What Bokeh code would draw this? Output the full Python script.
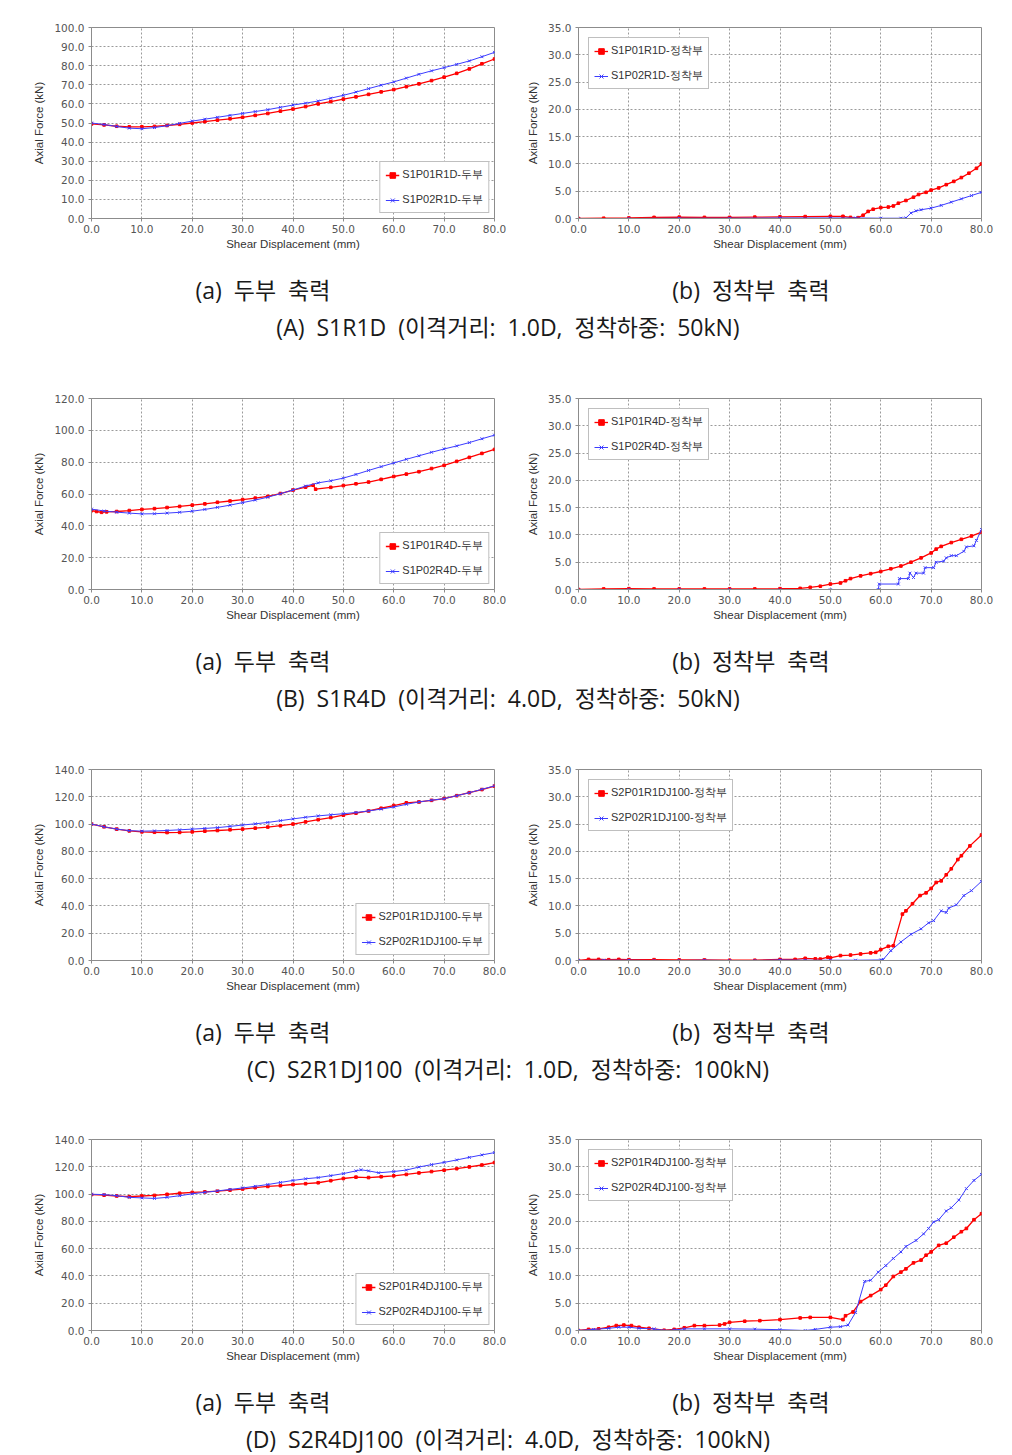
from bokeh.plotting import figure
from bokeh.models import Div, FixedTicker, NumeralTickFormatter, Range1d
from bokeh.layouts import column, row
from bokeh.embed import file_html
from bokeh.resources import INLINE

# ---------------- data ----------------
X25 = [0, 2.5, 5, 7.5, 10, 12.5, 15, 17.5, 20, 22.5, 25, 27.5, 30, 32.5, 35, 37.5, 40,
       42.5, 45, 47.5, 50, 52.5, 55, 57.5, 60, 62.5, 65, 67.5, 70, 72.5, 75, 77.5, 80]
X_TICKS = [0, 10, 20, 30, 40, 50, 60, 70, 80]
Y_TICKS_A_HEAD = [0, 10, 20, 30, 40, 50, 60, 70, 80, 90, 100]
Y_TICKS_B_HEAD = [0, 20, 40, 60, 80, 100, 120]
Y_TICKS_CD_HEAD = [0, 20, 40, 60, 80, 100, 120, 140]
Y_TICKS_ANCHOR = [0, 5, 10, 15, 20, 25, 30, 35]

# (A) S1R1D
a_head_p01_y = [49.5, 49.0, 48.3, 48.0, 48.0, 48.2, 48.7, 49.3, 50.0, 50.7, 51.5, 52.2, 53.0,
                54.0, 55.0, 56.2, 57.3, 58.6, 60.0, 61.2, 62.5, 63.7, 65.0, 66.3, 67.5, 69.0,
                70.5, 72.2, 74.0, 76.0, 78.3, 81.0, 83.5]
a_head_p02_y = [50.0, 49.2, 48.2, 47.3, 47.0, 47.6, 48.6, 49.8, 51.0, 52.0, 53.0, 54.0, 55.0,
                56.0, 57.0, 58.2, 59.4, 60.4, 61.5, 63.0, 64.5, 66.2, 68.0, 69.8, 71.5, 73.5,
                75.5, 77.3, 79.0, 80.7, 82.5, 84.7, 87.0]
a_anc_p01_x = [0, 5, 10, 15, 20, 25, 30, 35, 40, 45, 50, 52.5, 54, 55.5, 56.5, 57.5, 58.5,
               60, 61.5, 62.5, 63.5, 65, 66.5, 67.5, 69, 70, 71.5, 73, 74.5, 76, 77.5, 79, 80]
a_anc_p01_y = [0.0, 0.05, 0.1, 0.2, 0.25, 0.2, 0.2, 0.25, 0.3, 0.35, 0.4, 0.4, 0.2, 0.15, 0.6,
               1.3, 1.7, 2.0, 2.1, 2.3, 2.8, 3.3, 3.9, 4.4, 4.8, 5.2, 5.6, 6.2, 6.8, 7.5, 8.3,
               9.2, 10.0]
a_anc_p02_x = [0, 10, 20, 30, 40, 50, 55, 60, 64, 65, 66, 67, 68, 70, 72, 74, 76, 78, 80]
a_anc_p02_y = [-0.1, 0.0, 0.05, 0.05, 0.1, 0.1, 0.1, 0.05, 0.05, 0.1, 1.0, 1.4, 1.6, 1.9, 2.4,
               3.0, 3.6, 4.2, 4.8]

# (B) S1R4D
b_head_p01_x = [0, 1, 2, 3, 5, 7.5, 10, 12.5, 15, 17.5, 20, 22.5, 25, 27.5, 30, 32.5, 35, 37.5,
                40, 42.5, 44, 44.5, 47.5, 50, 52.5, 55, 57.5, 60, 62.5, 65, 67.5, 70, 72.5, 75,
                77.5, 80]
b_head_p01_y = [49.5, 49.0, 48.5, 48.8, 49.0, 49.6, 50.3, 50.8, 51.5, 52.2, 53.0, 53.8, 54.8,
                55.6, 56.5, 57.4, 58.5, 60.3, 62.5, 64.3, 65.5, 63.0, 64.2, 65.3, 66.4, 67.5,
                69.2, 71.0, 72.5, 74.0, 76.0, 78.0, 80.5, 83.0, 85.5, 88.0]
b_head_p02_y = [50.5, 49.3, 48.6, 48.0, 47.5, 47.6, 48.0, 48.5, 49.2, 50.3, 51.6, 53.0, 54.6,
                56.2, 58.0, 60.2, 62.5, 65.0, 67.0, 68.3, 70.0, 72.3, 74.8, 77.2, 79.5, 81.8,
                84.0, 86.2, 88.3, 90.2, 92.3, 94.7, 97.0]
b_anc_p01_x = [0, 5, 10, 15, 20, 25, 30, 35, 40, 44, 46, 48, 50, 52, 53, 54, 56, 58, 60, 62,
               64, 66, 68, 70, 71, 72, 74, 76, 78, 80]
b_anc_p01_y = [0.0, 0.1, 0.15, 0.1, 0.1, 0.1, 0.1, 0.1, 0.15, 0.2, 0.4, 0.6, 1.0, 1.2, 1.6,
               2.0, 2.5, 2.9, 3.3, 3.8, 4.3, 5.0, 5.8, 6.7, 7.4, 7.9, 8.6, 9.2, 9.8, 10.5]
b_anc_p02_x = [0, 10, 20, 30, 40, 50, 59.5, 59.7, 63.5, 63.7, 65.5, 65.8, 66.5, 67, 68.5, 68.8,
               70.5, 71, 72.5, 73, 74, 75, 76.5, 77, 78.5, 79, 80]
b_anc_p02_y = [-0.1, 0.0, 0.0, 0.0, -0.05, -0.05, 0.0, 1.0, 1.0, 2.0, 2.0, 3.0, 2.2, 3.0, 3.0,
               4.0, 4.0, 5.0, 5.2, 5.8, 6.2, 6.2, 7.0, 7.8, 8.0, 9.0, 11.0]

# (C) S2R1DJ100
c_head_p01_y = [100.0, 98.0, 96.3, 95.0, 94.3, 94.0, 93.8, 93.9, 94.3, 94.8, 95.3, 95.8, 96.3,
                97.0, 97.8, 98.8, 100.0, 101.6, 103.2, 104.8, 106.5, 108.0, 109.6, 111.6, 113.6,
                115.6, 116.2, 117.4, 118.7, 120.8, 123.0, 125.3, 127.8]
c_head_p02_y = [100.0, 98.0, 96.3, 95.2, 94.8, 95.0, 95.3, 95.8, 96.3, 96.8, 97.4, 98.3, 99.3,
                100.2, 101.2, 102.5, 103.8, 105.0, 106.0, 106.8, 107.6, 108.5, 109.6, 111.0,
                112.5, 114.5, 116.2, 117.5, 118.6, 120.8, 123.0, 125.5, 128.0]
c_anc_p01_x = [0, 2, 4, 6, 8, 10, 15, 20, 25, 30, 35, 40, 43, 45, 47, 48, 49.5, 50, 52, 54, 56,
               58, 59, 60, 61.5, 62.5, 64.3, 65, 66.3, 67.8, 69, 70, 71, 72, 73, 74, 75.3, 76,
               77.7, 80]
c_anc_p01_y = [0.0, 0.2, 0.2, 0.15, 0.2, 0.15, 0.15, 0.1, 0.1, 0.05, 0.05, 0.2, 0.2, 0.4, 0.3,
               0.25, 0.6, 0.5, 0.9, 1.0, 1.2, 1.4, 1.5, 2.0, 2.6, 2.7, 8.5, 9.1, 10.4, 11.9,
               12.4, 13.2, 14.3, 14.6, 15.7, 16.8, 18.5, 19.2, 21.0, 23.0]
c_anc_p02_x = [0, 5, 10, 15, 20, 25, 30, 35, 40, 45, 50, 55, 60, 60.5, 62, 64, 66, 68, 69.5,
               70.5, 72, 73, 73.5, 75, 76.5, 78, 80]
c_anc_p02_y = [0.0, 0.05, 0.05, 0.0, 0.0, 0.05, 0.0, 0.0, 0.1, 0.05, 0.05, 0.05, 0.1, 0.2, 1.8,
               3.4, 4.8, 5.8, 6.9, 7.3, 9.1, 8.8, 9.6, 10.2, 11.9, 12.8, 14.5]

# (D) S2R4DJ100
d_head_p01_y = [99.6, 99.2, 98.6, 98.1, 98.6, 99.0, 99.8, 100.6, 101.2, 101.6, 102.1, 102.9,
                103.7, 104.7, 105.6, 106.2, 107.0, 107.6, 108.3, 109.8, 111.4, 112.4, 112.1,
                112.7, 113.4, 114.4, 115.5, 116.5, 117.5, 118.6, 119.9, 121.3, 123.1]
d_head_p02_x = [0, 2.5, 5, 7.5, 10, 12.5, 15, 17.5, 20, 22.5, 25, 27.5, 30, 32.5, 35, 37.5, 40,
                42.5, 45, 47.5, 50, 52.5, 53.5, 55, 57, 60, 62.5, 65, 67.5, 70, 72.5, 75, 77.5,
                80]
d_head_p02_y = [99.9, 99.6, 98.8, 97.6, 97.2, 96.8, 97.6, 98.8, 100.2, 101.3, 102.3, 103.4,
                104.5, 105.7, 107.0, 108.5, 110.0, 111.2, 112.1, 113.5, 115.0, 117.0, 117.8,
                117.0, 115.6, 116.5, 117.6, 119.8, 121.6, 123.2, 125.0, 126.9, 128.7, 130.4]
d_anc_p01_x = [0, 2, 4, 6, 7.5, 9, 10.5, 12, 14, 17, 19, 21, 23, 25, 28, 29, 30, 33, 36, 40, 44,
               46, 50, 52.5, 53, 54.5, 56, 58, 60, 61, 62.5, 64, 65, 66.5, 68, 69, 70, 71.5, 73,
               74.5, 76, 77, 78.5, 80]
d_anc_p01_y = [0.0, 0.2, 0.3, 0.6, 0.9, 1.0, 0.9, 0.6, 0.4, 0.05, 0.2, 0.5, 0.9, 0.9, 1.0, 1.2,
               1.5, 1.7, 1.8, 2.0, 2.3, 2.4, 2.4, 2.0, 2.7, 3.4, 5.3, 6.4, 7.5, 8.3, 9.9, 10.7,
               11.3, 12.4, 12.9, 13.8, 14.4, 15.6, 16.0, 17.1, 18.1, 18.7, 20.3, 21.4]
d_anc_p02_x = [0, 3, 6, 8, 10, 12, 15, 17, 19, 21, 25, 30, 35, 40, 45, 47, 50, 52, 53.5, 55,
               56.8, 58, 59.5, 61, 62.5, 64, 65, 67, 68.5, 69.5, 70.5, 71.5, 73, 74, 75.5, 77,
               78.5, 80]
d_anc_p02_y = [0.0, 0.2, 0.4, 0.6, 0.6, 0.4, 0.3, 0.0, 0.1, 0.3, 0.3, 0.3, 0.25, 0.15, 0.0,
               0.2, 0.6, 0.7, 1.0, 3.3, 9.0, 9.2, 10.7, 11.9, 13.2, 14.4, 15.4, 16.5, 17.7,
               18.7, 19.9, 20.3, 21.9, 22.5, 23.9, 26.0, 27.5, 28.6]

# ---------------- styling helpers ----------------
RED = "#FF0000"
BLUE = "#3C3CFF"
GRID = "#9a9a9a"
TICK_FONT = "DejaVu Sans"
TXT_GRAY = "#555555"


def make_fig(side, ymax, yticks, series, legend_labels):
    if side == "left":
        w, bl, br = 502, 83, 16
    else:
        w, bl, br = 494, 68, 23
    p = figure(width=w, height=246, output_backend="svg", toolbar_location=None,
               x_range=Range1d(0, 80), y_range=Range1d(0, ymax),
               min_border_left=bl, min_border_right=br, min_border_top=19,
               min_border_bottom=36, margin=0)
    p.background_fill_color = "white"
    p.border_fill_color = "white"
    p.outline_line_color = "#8c8c8c"
    p.outline_line_width = 1
    p.xaxis.ticker = FixedTicker(ticks=X_TICKS)
    p.yaxis.ticker = FixedTicker(ticks=yticks)
    p.xaxis.formatter = NumeralTickFormatter(format="0.0")
    p.yaxis.formatter = NumeralTickFormatter(format="0.0")
    p.xaxis.axis_label = "Shear Displacement (mm)"
    p.yaxis.axis_label = "Axial Force (kN)"
    for ax in (p.xaxis, p.yaxis):
        ax.axis_line_color = "#8c8c8c"
        ax.major_tick_line_color = "#8c8c8c"
        ax.major_tick_out = 3
        ax.major_tick_in = 0
        ax.minor_tick_line_color = None
        ax.major_label_text_font = TICK_FONT
        ax.major_label_text_font_size = "10.5px"
        ax.major_label_text_color = TXT_GRAY
        ax.axis_label_text_font = "Liberation Sans"
        ax.axis_label_text_font_size = "11.5px"
        ax.axis_label_text_font_style = "normal"
        ax.axis_label_text_color = "#333333"
    p.xaxis.major_label_standoff = 3
    p.xaxis.axis_label_standoff = 2
    p.yaxis.major_label_standoff = 4
    p.yaxis.axis_label_standoff = 6
    p.grid.grid_line_color = GRID
    p.grid.grid_line_dash = "2 2"
    p.grid.grid_line_width = 1

    (x1, y1), (x2, y2) = series
    p.line(x1, y1, color=RED, line_width=1.3, legend_label=legend_labels[0])
    p.scatter(x1, y1, marker="square", size=2.6, color=RED, legend_label=legend_labels[0])
    p.line(x2, y2, color=BLUE, line_width=1, legend_label=legend_labels[1])
    p.scatter(x2, y2, marker="x", size=4, color=BLUE, line_width=1,
              legend_label=legend_labels[1])

    lg = p.legend[0]
    lg.location = "bottom_right" if side == "left" else "top_left"
    lg.margin = 5 if side == "left" else 10
    lg.border_line_color = "#808080"
    lg.border_line_width = 1
    lg.background_fill_color = "white"
    lg.background_fill_alpha = 1
    lg.label_text_font = "Liberation Sans"
    lg.label_text_font_size = "11px"
    lg.label_text_color = "#333333"
    lg.padding = 5
    lg.spacing = 10
    lg.label_height = 14
    lg.glyph_height = 14
    lg.glyph_width = 14
    lg.label_standoff = 3
    return p


def caption(main_text, height):
    font = "font-family:'Open Sans','Noto Sans CJK KR',sans-serif;font-size:23px;color:#1a1a1a;line-height:30px;"
    html = (
        f"<div style=\"position:relative;width:996px;height:{height}px;\">"
        f"<div style=\"position:absolute;left:105px;top:21px;width:300px;text-align:center;"
        f"white-space:pre;{font}\">(a)  두부  축력</div>"
        f"<div style=\"position:absolute;left:593px;top:21px;width:300px;text-align:center;"
        f"white-space:pre;{font}\">(b)  정착부  축력</div>"
        f"<div style=\"position:absolute;left:150px;top:58px;width:700px;text-align:center;"
        f"white-space:pre;{font}\">{main_text}</div>"
        f"</div>"
    )
    return Div(text=html, width=996, height=height, margin=0)


fA1 = make_fig("left", 100, Y_TICKS_A_HEAD, [(X25, a_head_p01_y), (X25, a_head_p02_y)],
               ["S1P01R1D-두부", "S1P02R1D-두부"])
fA2 = make_fig("right", 35, Y_TICKS_ANCHOR, [(a_anc_p01_x, a_anc_p01_y), (a_anc_p02_x, a_anc_p02_y)],
               ["S1P01R1D-정착부", "S1P02R1D-정착부"])
fB1 = make_fig("left", 120, Y_TICKS_B_HEAD, [(b_head_p01_x, b_head_p01_y), (X25, b_head_p02_y)],
               ["S1P01R4D-두부", "S1P02R4D-두부"])
fB2 = make_fig("right", 35, Y_TICKS_ANCHOR, [(b_anc_p01_x, b_anc_p01_y), (b_anc_p02_x, b_anc_p02_y)],
               ["S1P01R4D-정착부", "S1P02R4D-정착부"])
fC1 = make_fig("left", 140, Y_TICKS_CD_HEAD, [(X25, c_head_p01_y), (X25, c_head_p02_y)],
               ["S2P01R1DJ100-두부", "S2P02R1DJ100-두부"])
fC2 = make_fig("right", 35, Y_TICKS_ANCHOR, [(c_anc_p01_x, c_anc_p01_y), (c_anc_p02_x, c_anc_p02_y)],
               ["S2P01R1DJ100-정착부", "S2P02R1DJ100-정착부"])
fD1 = make_fig("left", 140, Y_TICKS_CD_HEAD, [(X25, d_head_p01_y), (d_head_p02_x, d_head_p02_y)],
               ["S2P01R4DJ100-두부", "S2P02R4DJ100-두부"])
fD2 = make_fig("right", 35, Y_TICKS_ANCHOR, [(d_anc_p01_x, d_anc_p01_y), (d_anc_p02_x, d_anc_p02_y)],
               ["S2P01R4DJ100-정착부", "S2P02R4DJ100-정착부"])

layout = column(
    row(fA1, fA2, margin=0), caption("(A)  S1R1D  (이격거리:  1.0D,  정착하중:  50kN)", 125),
    row(fB1, fB2, margin=0), caption("(B)  S1R4D  (이격거리:  4.0D,  정착하중:  50kN)", 125),
    row(fC1, fC2, margin=0), caption("(C)  S2R1DJ100  (이격거리:  1.0D,  정착하중:  100kN)", 124),
    row(fD1, fD2, margin=0), caption("(D)  S2R4DJ100  (이격거리:  4.0D,  정착하중:  100kN)", 80),
    margin=(8, 0, 0, 8),
)

open("out.html", "w").write(file_html(layout, INLINE))
